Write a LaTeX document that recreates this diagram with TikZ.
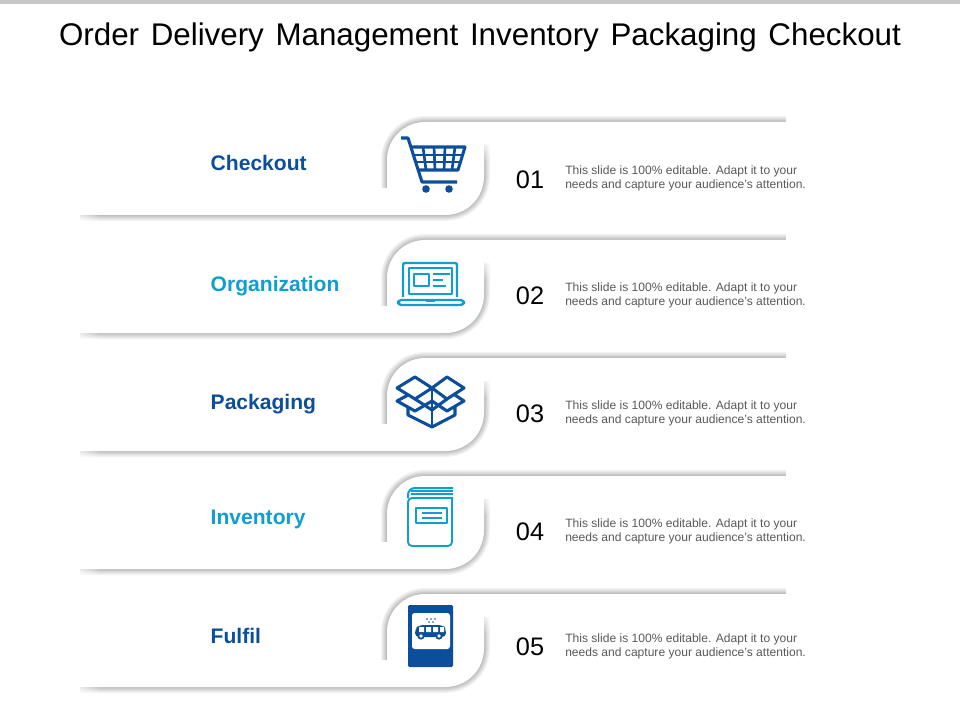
\documentclass[tikz,border=0pt]{standalone}
\usepackage{fontspec}
\setmainfont{Liberation Sans}
\usetikzlibrary{fadings}
\definecolor{DarkBlue}{RGB}{11,79,156}
\definecolor{LightBlue}{RGB}{16,157,208}
\definecolor{TextGray}{RGB}{89,89,89}
\tikzset{
	title/.style={font=\fontsize{23.5}{28}\selectfont,black},
	label/.style={font=\fontsize{15.8}{18}\selectfont\bfseries,anchor=west},
	number/.style={font=\fontsize{19}{22}\selectfont,black},
	blurb/.style={font=\fontsize{9.05}{10.5}\selectfont,TextGray,align=left,anchor=west},
	icon/.style={line width=2.3pt,line join=round},
}
\def\shadowline#1% Syntax: path
{ \draw[gray!10,line width=9pt] #1; \draw[gray!20,line width=7pt] #1; \draw[gray!32,line width=5pt] #1; \draw[gray!42,line width=3pt] #1; \draw[gray!52,line width=1.2pt] #1; }
\def\band(#1)% Syntax: (y of the top of the band)
{ \begin{scope}[shift={(0,#1)}]
	\shadowline{(786,4)--(425,4) .. controls (404,4) and (387,21) .. (387,42)--(387,70)}
	\fill[white] (786,4)--(425,4) .. controls (404,4) and (387,21) .. (387,42)--(387,70)--(786,70)--cycle;
	\shadowline{(484,27)--(484,58) .. controls (484,80) and (467,97) .. (445,97)--(80,97)}
	\fill[white] (484,27)--(484,58) .. controls (484,80) and (467,97) .. (445,97)--(80,97)--(80,70)--(400,70)--(400,27)--cycle;
	\fill[white,path fading=south] (478,20) rectangle (498,44);
	\fill[white,path fading=east] (70,88) rectangle (100,108);
	\fill[white] (786,-4) rectangle (794,10);
	\fill[white] (375,70) rectangle (392,76);
\end{scope} }
\begin{document}
\begin{tikzpicture}[x=0.75pt,y=-0.75pt]
	\useasboundingbox (0,0) rectangle (960,720);
	\fill[gray!45] (0,0) rectangle (960,4);		%bar on top
	\node[title] (title) at (480,37) {Order\hspace{2.2pt} Delivery\hspace{2.2pt} Management\hspace{2.2pt} Inventory\hspace{2.2pt} Packaging\hspace{2.2pt} Checkout};
	
	\band(118)
	\band(236)
	\band(354)
	\band(472)
	\band(590)
	
	\node[label,DarkBlue] (checkout) at (206,163) {Checkout};
	\node[label,LightBlue] (organization) at (206,286) {Organization};
	\node[label,DarkBlue] (packaging) at (206,404) {Packaging};
	\node[label,LightBlue] (inventory) at (206,519) {Inventory};
	\node[label,DarkBlue] (fulfil) at (206,636) {Fulfil};
	%
	\node[number] (n1) at (530,180) {01};
	\node[number] (n2) at (530,296) {02};
	\node[number] (n3) at (530,414) {03};
	\node[number] (n4) at (530,532) {04};
	\node[number] (n5) at (530,647) {05};
	%
	\node[blurb,inner sep=0pt] (t1) at (565,178) {This slide is 100\% editable. Adapt it to your\\needs and capture your audience's attention.};
	\node[blurb,inner sep=0pt] (t2) at (565,295) {This slide is 100\% editable. Adapt it to your\\needs and capture your audience's attention.};
	\node[blurb,inner sep=0pt] (t3) at (565,413) {This slide is 100\% editable. Adapt it to your\\needs and capture your audience's attention.};
	\node[blurb,inner sep=0pt] (t4) at (565,531) {This slide is 100\% editable. Adapt it to your\\needs and capture your audience's attention.};
	\node[blurb,inner sep=0pt] (t5) at (565,646) {This slide is 100\% editable. Adapt it to your\\needs and capture your audience's attention.};
	
	%cart
	\draw[icon,DarkBlue] (401,138)--(408,138)--(422,182)--(457,182);
	\draw[icon,DarkBlue] (411,147)--(465,147)--(458,170)--(418,170);
	\draw[icon,DarkBlue,line width=2pt] (413,155)--(462,155) (415,162)--(460,162);
	\draw[icon,DarkBlue,line width=2pt] (423,147)--(426,170) (434,147)--(435,170) (445,147)--(444,170) (455,147)--(452,170);
	\fill[DarkBlue] (426,189) circle (3.8);
	\fill[DarkBlue] (449,189) circle (3.8);
	
	%laptop
	\draw[icon,LightBlue,line width=1.8pt,rounded corners=1pt] (403,297)--(403,263)--(457,263)--(457,297);
	\draw[icon,LightBlue,line width=1.7pt] (409,294)--(409,268)--(452,268)--(452,294)--cycle;
	\draw[icon,LightBlue,line width=1.7pt] (414,274) rectangle (429,286);
	\draw[icon,LightBlue,line width=1.7pt] (433,274)--(450,274) (433,280)--(443,280) (433,286)--(446,286);
	\draw[icon,LightBlue,line width=1.8pt,rounded corners=2.5pt] (398,300) rectangle (464,305);
	\draw[icon,LightBlue,line width=1.8pt] (426,301)--(435,301);
	
	%box
	\draw[icon,DarkBlue] (397,388)--(415,377)--(432,388)--(415,399)--cycle;
	\draw[icon,DarkBlue] (432,388)--(447,377)--(464,388)--(447,399)--cycle;
	\draw[icon,DarkBlue] (415,399)--(432,410)--(447,399);
	\draw[icon,DarkBlue] (408,395)--(397,401)--(415,411)--(432,401)--(447,411)--(464,401)--(455,395);
	\draw[icon,DarkBlue] (408,407)--(408,415)--(432,427)--(455,415)--(455,407);
	\draw[icon,DarkBlue,line width=1.5pt] (432,388)--(432,427);
	
	%book
	\draw[icon,LightBlue,line width=1.4pt,rounded corners=3pt] (453,498)--(408,498)--(408,546)--(452,546)--(452,498);
	\draw[icon,LightBlue,line width=1.5pt,rounded corners=2pt] (453,488)--(412,488)--(408,492)--(408,498);
	\draw[icon,LightBlue,line width=1.0pt] (411,491)--(453,491) (411,494)--(453,494);
	\draw[icon,LightBlue,line width=1.1pt] (416,508) rectangle (447,523);
	\draw[icon,LightBlue,line width=1.1pt] (422,513)--(442,513) (422,518)--(442,518);
	
	%bus stop sign
	\fill[DarkBlue,rounded corners=1pt] (408,605) rectangle (453,667);
	\fill[white,rounded corners=2pt] (412,613) rectangle (450,649);
	\fill[DarkBlue,rounded corners=3pt] (415,637)--(415,629)--(419,625)--(443,625)--(446,629)--(446,637)--cycle;
	\fill[white] (419,627) rectangle (424,632) (426,627) rectangle (431,632) (433,627) rectangle (438,632) (440,627) rectangle (444,632);
	\fill[DarkBlue] (421,636) circle (3.6) (439,636) circle (3.6);
	\fill[white] (421,636) circle (1.8) (439,636) circle (1.8);
	\fill[DarkBlue] (427,619) circle (0.8) (431,619) circle (0.8) (435,619) circle (0.8) (429,622) circle (0.8) (433,622) circle (0.8);
\end{tikzpicture}
\end{document}
